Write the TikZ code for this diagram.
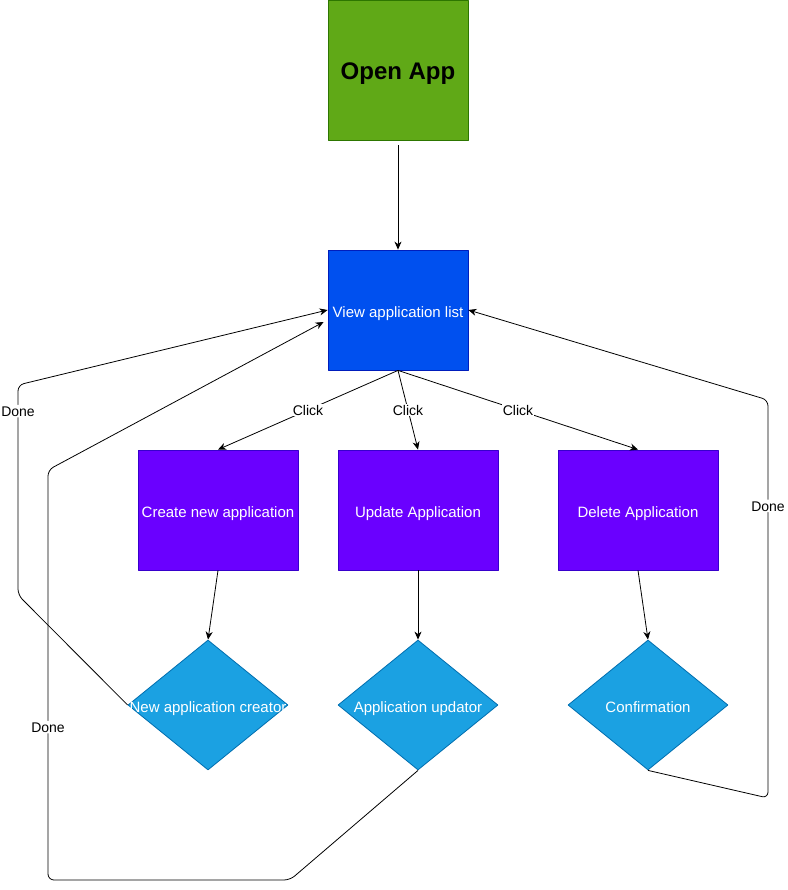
\documentclass[tikz,border=0pt]{standalone}
\usepackage{fontspec}
\setmainfont{Liberation Sans}
\usepackage{tikz}
\usetikzlibrary{calc}
\usetikzlibrary{shapes.geometric}
\usetikzlibrary{arrows.meta}

\definecolor{startfill}{HTML}{60A917}
\definecolor{startline}{HTML}{2D7600}
\definecolor{listfill}{HTML}{0050EF}
\definecolor{listline}{HTML}{001DBC}
\definecolor{actfill}{HTML}{6A00FF}
\definecolor{actline}{HTML}{3700CC}
\definecolor{decfill}{HTML}{1BA1E2}
\definecolor{decline}{HTML}{006EAF}

\begin{document}
\begin{tikzpicture}[x=1pt, y=-1pt, line join=round,
    box/.style={draw, line width=0.8pt, inner sep=0pt, text=white,
        text height=14pt, text depth=0pt, font=\fontsize{15}{18}\selectfont},
    decision/.style={diamond, draw=decline, fill=decfill, line width=0.8pt,
        inner sep=0pt, minimum width=160pt, minimum height=130pt},
    dectext/.style={text=white, font=\fontsize{15}{18}\selectfont, inner sep=0pt,
        text height=14pt, text depth=0pt},
    flow/.style={line width=0.8pt, -{Stealth[length=8pt, width=7pt, inset=2.5pt]}},
    back/.style={flow, rounded corners=6pt},
    lbl/.style={fill=white, inner sep=1pt, text=black, text height=10.5pt, text depth=0pt,
        font=\fontsize{14}{16}\selectfont}]
            \useasboundingbox (0,0) rectangle (787,890);

            \node [box, draw=startline, fill=startfill, text=black, minimum width=140pt,
                minimum height=140pt, text height=18.5pt, font=\fontsize{24}{28}\selectfont\bfseries] (open) at (398,70) {Open App};
            \node [box, draw=listline, fill=listfill, minimum width=140pt, minimum height=120pt] (view) at (398,310) {View application list};
            \node [box, draw=actline, fill=actfill, minimum width=160pt, minimum height=120pt] (create) at (218,510) {Create new application};
            \node [box, draw=actline, fill=actfill, minimum width=160pt, minimum height=120pt] (update) at (418,510) {Update Application};
            \node [box, draw=actline, fill=actfill, minimum width=160pt, minimum height=120pt] (delete) at (638,510) {Delete Application};

            \node [decision, label={[dectext]center:New application creator}] (creator) at (208,705) {};
            \node [decision, label={[dectext]center:Application updator}] (updator) at (418,705) {};
            \node [decision, label={[dectext]center:Confirmation}] (confirm) at (648,705) {};

            \coordinate (viewlow) at ($(view.west)+(-4,12)$);

            \draw [flow, shorten <=5pt] (open) -- (view);
            \draw [flow] (view.south) -- node [lbl] {Click} (create.north);
            \draw [flow] (view.south) -- node [lbl] {Click} (update.north);
            \draw [flow] (view.south) -- node [lbl] {Click} (delete.north);
            \draw [flow] (create.south) -- (creator.north);
            \draw [flow] (update.south) -- (updator.north);
            \draw [flow] (delete.south) -- (confirm.north);

            \draw [back] (creator.west) -- (18,595) -- node [lbl, pos=0.876] {Done} (18,385) -- (view.west);
            \draw [back] (updator.south) -- (290,880) -- (48,880) -- node [lbl, pos=0.373] {Done} (48,470) -- (viewlow);
            \draw [back] (confirm.south) -- (768,798) -- node [lbl, pos=0.734] {Done} (768,400) -- (view.east);
        \end{tikzpicture}
\end{document}
